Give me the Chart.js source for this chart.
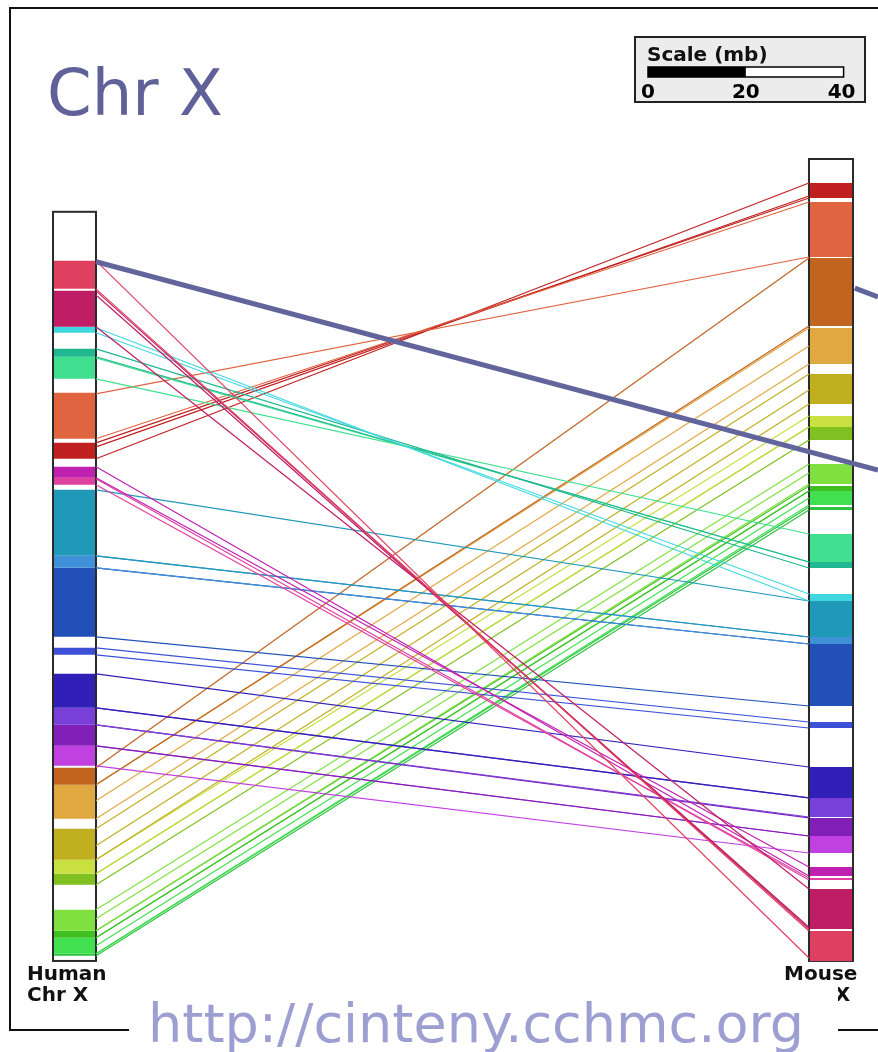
<!DOCTYPE html>
<html>
<head>
<meta charset="utf-8">
<script src="https://cdn.jsdelivr.net/npm/chart.js@4.4.1/dist/chart.umd.min.js"></script>
<style>
  html, body { margin: 0; padding: 0; background: #ffffff; overflow: hidden; }
  canvas { display: block; }
</style>
</head>
<body>
<canvas id="c" width="878" height="1052"></canvas>
<script>
// ---------------- DATA (Mb) ----------------
const HUMAN_LENGTH = 153.2;   // Human chr X length (Mb, as drawn)
const MOUSE_LENGTH = 164.0;   // Mouse chr X length (Mb, as drawn)

// conserved-segment ids (1..26), human order top -> bottom
const humanBandId    = [1,2,3,4,5,6,7,8,9,10,11,12,13,14,15,16,17,18,19,20,21,22,23,24,25,26];
const humanBandStart = [10.02,16.16,23.52,28.02,29.65,37.01,47.24,52.15,54.40,56.85,70.35,72.80,89.16,94.48,101.43,104.91,109.20,113.70,117.18,126.18,132.52,135.38,142.74,147.03,148.47,151.74];
const humanBandEnd   = [15.75,23.52,24.74,29.65,34.15,46.42,50.51,54.40,55.83,70.35,72.80,86.91,90.59,101.43,104.91,109.20,113.29,117.18,124.13,132.52,135.38,137.63,147.03,148.47,151.74,152.15];

// mouse order top -> bottom
const mouseBandId    = [7,6,18,19,20,21,22,23,24,25,26,5,4,3,10,11,12,13,14,15,16,17,8,9,2,1];
const mouseBandStart = [4.91,8.79,20.25,34.56,43.97,52.56,54.81,62.37,66.87,67.89,71.17,76.69,82.41,88.96,90.39,97.75,99.18,115.13,124.34,130.67,134.76,138.45,144.79,147.03,149.28,157.87];
const mouseBandEnd   = [7.98,20.04,34.15,41.92,50.10,54.81,57.46,66.46,67.89,70.76,71.78,82.41,83.64,90.39,97.75,99.18,111.86,116.36,130.67,134.56,138.45,141.92,146.63,147.44,157.46,164.00];

// synteny links: human position (Mb) -> mouse position (Mb), segment id
const linkHuman = [10.02,15.75, 16.16,17.00,23.52, 23.72,24.74, 28.02,29.65, 29.86,34.15, 37.22,46.42, 47.24,48.06,50.51,
                   52.15,54.40, 54.60,55.83, 56.85,70.35, 70.35,72.80, 72.80,86.91, 89.16,90.59, 94.48,101.43, 101.43,104.91,
                   104.91,109.20, 109.20,113.29, 113.70,117.18, 117.18,120.45,124.13, 126.18,129.65,132.52, 132.52,135.38,
                   135.38,137.63, 142.74,144.58,147.03, 147.03,148.47, 148.47,150.10,151.74, 151.74,152.15];
const linkMouse = [163.40,157.87, 157.46,157.10,149.28, 90.39,88.96, 83.64,82.41, 82.41,76.69, 20.04,8.79, 7.98,7.57,4.91,
                   146.63,144.79, 147.44,147.03, 90.39,97.75, 97.75,99.18, 99.18,111.86, 115.13,116.36, 124.34,130.67, 130.67,134.56,
                   134.76,138.45, 138.45,141.92, 20.25,34.15, 34.56,38.24,41.92, 43.97,47.24,50.10, 52.56,54.81,
                   54.81,57.46, 62.37,64.21,66.46, 66.87,67.89, 67.89,69.33,70.76, 71.17,71.78];
const linkId    = [1,1, 2,2,2, 3,3, 4,4, 5,5, 6,6, 7,7,7,
                   8,8, 9,9, 10,10, 11,11, 12,12, 13,13, 14,14, 15,15,
                   16,16, 17,17, 18,18, 19,19,19, 20,20,20, 21,21,
                   22,22, 23,23,23, 24,24, 25,25,25, 26,26];

const scaleTicks = [0, 20, 40];   // Mb

// ---------------- STYLE / LAYOUT ----------------
const SEGMENT_COLORS = {
  1:'#e0405f', 2:'#c01e64', 3:'#40d8e0', 4:'#20b890', 5:'#40e090', 6:'#e06440', 7:'#c02020',
  8:'#c020b0', 9:'#e040a0', 10:'#2098b8', 11:'#4090d8', 12:'#2050b8', 13:'#3c50d8', 14:'#3020b8',
  15:'#7840d8', 16:'#8020b8', 17:'#c040e0', 18:'#c06420', 19:'#e0a840', 20:'#c0b020', 21:'#c8e040',
  22:'#80c020', 23:'#80e040', 24:'#40c020', 25:'#40e050', 26:'#30c040'
};
const HUMAN_X = 0, MOUSE_X = 1;           // column positions on the x scale
const HUMAN_HALF = 0.0284, MOUSE_HALF = 0.0291;
const HUMAN_OFFSET = MOUSE_LENGTH - HUMAN_LENGTH;   // bottoms aligned
const CALLOUT = '#62649c';
const LABEL_FONT = 'bold 20px "DejaVu Sans"';

const datasets = [];
// callout lines (top-most)
datasets.push({ data:[{x:HUMAN_X+HUMAN_HALF, y:HUMAN_OFFSET + humanBandStart[0] + 0.2},{x:1.0621, y:63.6}],
  borderColor:CALLOUT, borderWidth:5, pointRadius:0, showLine:true, borderCapStyle:'butt' });
datasets.push({ data:[{x:1.0315, y:26.4},{x:1.0621, y:28.2}],
  borderColor:CALLOUT, borderWidth:5, pointRadius:0, showLine:true, borderCapStyle:'butt' });
// bands
humanBandId.forEach((id,i)=>{
  datasets.push({ data:[{x:HUMAN_X,y:humanBandStart[i]+HUMAN_OFFSET},{x:HUMAN_X,y:humanBandEnd[i]+HUMAN_OFFSET}],
    borderColor:SEGMENT_COLORS[id], borderWidth:41, borderCapStyle:'butt', pointRadius:0, showLine:true });
});
mouseBandId.forEach((id,i)=>{
  datasets.push({ data:[{x:MOUSE_X,y:mouseBandStart[i]},{x:MOUSE_X,y:mouseBandEnd[i]}],
    borderColor:SEGMENT_COLORS[id], borderWidth:42, borderCapStyle:'butt', pointRadius:0, showLine:true });
});
// links
linkId.forEach((id,i)=>{
  datasets.push({ data:[{x:HUMAN_X+HUMAN_HALF,y:linkHuman[i]+HUMAN_OFFSET},{x:MOUSE_X-MOUSE_HALF,y:linkMouse[i]}],
    borderColor:SEGMENT_COLORS[id], borderWidth:1.2, pointRadius:0, showLine:true });
});

const decor = {
  id:'decor',
  beforeDatasetsDraw(chart){
    const {ctx, scales:{x,y}} = chart;
    ctx.save();
    // frame
    ctx.strokeStyle = '#111'; ctx.lineWidth = 2;
    ctx.strokeRect(10, 8, 900, 1022);
    // title
    ctx.fillStyle = '#5f6198';
    ctx.font = '64px "DejaVu Sans"';
    ctx.textBaseline = 'alphabetic'; ctx.textAlign = 'left';
    ctx.fillText('Chr X', 47, 115);
    // scale box
    ctx.fillStyle = '#ececec'; ctx.fillRect(635, 37, 230, 65);
    ctx.strokeStyle = '#222'; ctx.lineWidth = 2; ctx.strokeRect(635, 37, 230, 65);
    ctx.fillStyle = '#111'; ctx.font = LABEL_FONT;
    ctx.fillText('Scale (mb)', 647, 61);
    const pxPerMb = Math.abs(y.getPixelForValue(40) - y.getPixelForValue(0)) / 40;
    const sx = 648, sy = 67, sh = 10;
    const maxT = scaleTicks[scaleTicks.length-1];
    ctx.fillStyle = '#fff'; ctx.fillRect(sx, sy, maxT*pxPerMb, sh);
    ctx.fillStyle = '#000'; ctx.fillRect(sx, sy, scaleTicks[1]*pxPerMb, sh);
    ctx.strokeStyle = '#000'; ctx.lineWidth = 1.5; ctx.strokeRect(sx, sy, maxT*pxPerMb, sh);
    ctx.textAlign = 'center';
    scaleTicks.forEach(t => ctx.fillText(String(t), sx + t*pxPerMb - (t===maxT?2:0), 98));
    // chromosome outlines
    const outline = (cx, half, top, bot) => {
      const l = x.getPixelForValue(cx - half), r = x.getPixelForValue(cx + half);
      const t = y.getPixelForValue(top), b = y.getPixelForValue(bot);
      ctx.fillStyle = '#fff'; ctx.fillRect(l, t, r-l, b-t);
      ctx.strokeStyle = '#2a2a2a'; ctx.lineWidth = 2; ctx.strokeRect(l, t, r-l, b-t);
    };
    outline(HUMAN_X, HUMAN_HALF, HUMAN_OFFSET, HUMAN_OFFSET + HUMAN_LENGTH);
    outline(MOUSE_X, MOUSE_HALF, 0, MOUSE_LENGTH);
    ctx.restore();
  },
  afterDatasetsDraw(chart){
    const {ctx} = chart;
    ctx.save();
    ctx.fillStyle = '#111'; ctx.font = LABEL_FONT;
    ctx.textAlign = 'left'; ctx.textBaseline = 'alphabetic';
    ctx.fillText('Human', 27, 980); ctx.fillText('Chr X', 27, 1001);
    ctx.fillText('Mouse', 784, 980); ctx.fillText('Chr X', 789, 1001);
    ctx.fillStyle = '#fff'; ctx.fillRect(129, 984, 709, 68);
    ctx.fillStyle = '#9d9ed2'; ctx.font = '54px "DejaVu Sans"';
    ctx.fillText('http://cinteny.cchmc.org', 148, 1042);
    ctx.restore();
  }
};

new Chart(document.getElementById('c'), {
  type: 'scatter',
  data: { datasets },
  options: {
    responsive: false, devicePixelRatio: 1, animation: false,
    layout: { padding: 0 },
    plugins: { legend: { display:false }, tooltip: { enabled:false } },
    scales: {
      x: { type:'linear', display:false, min:-0.09848, max:1.06213 },
      y: { type:'linear', display:false, reverse:true, min:-32.515, max:182.62 }
    },
    elements: { line: { tension: 0 } }
  },
  plugins: [decor]
});
</script>
</body>
</html>
